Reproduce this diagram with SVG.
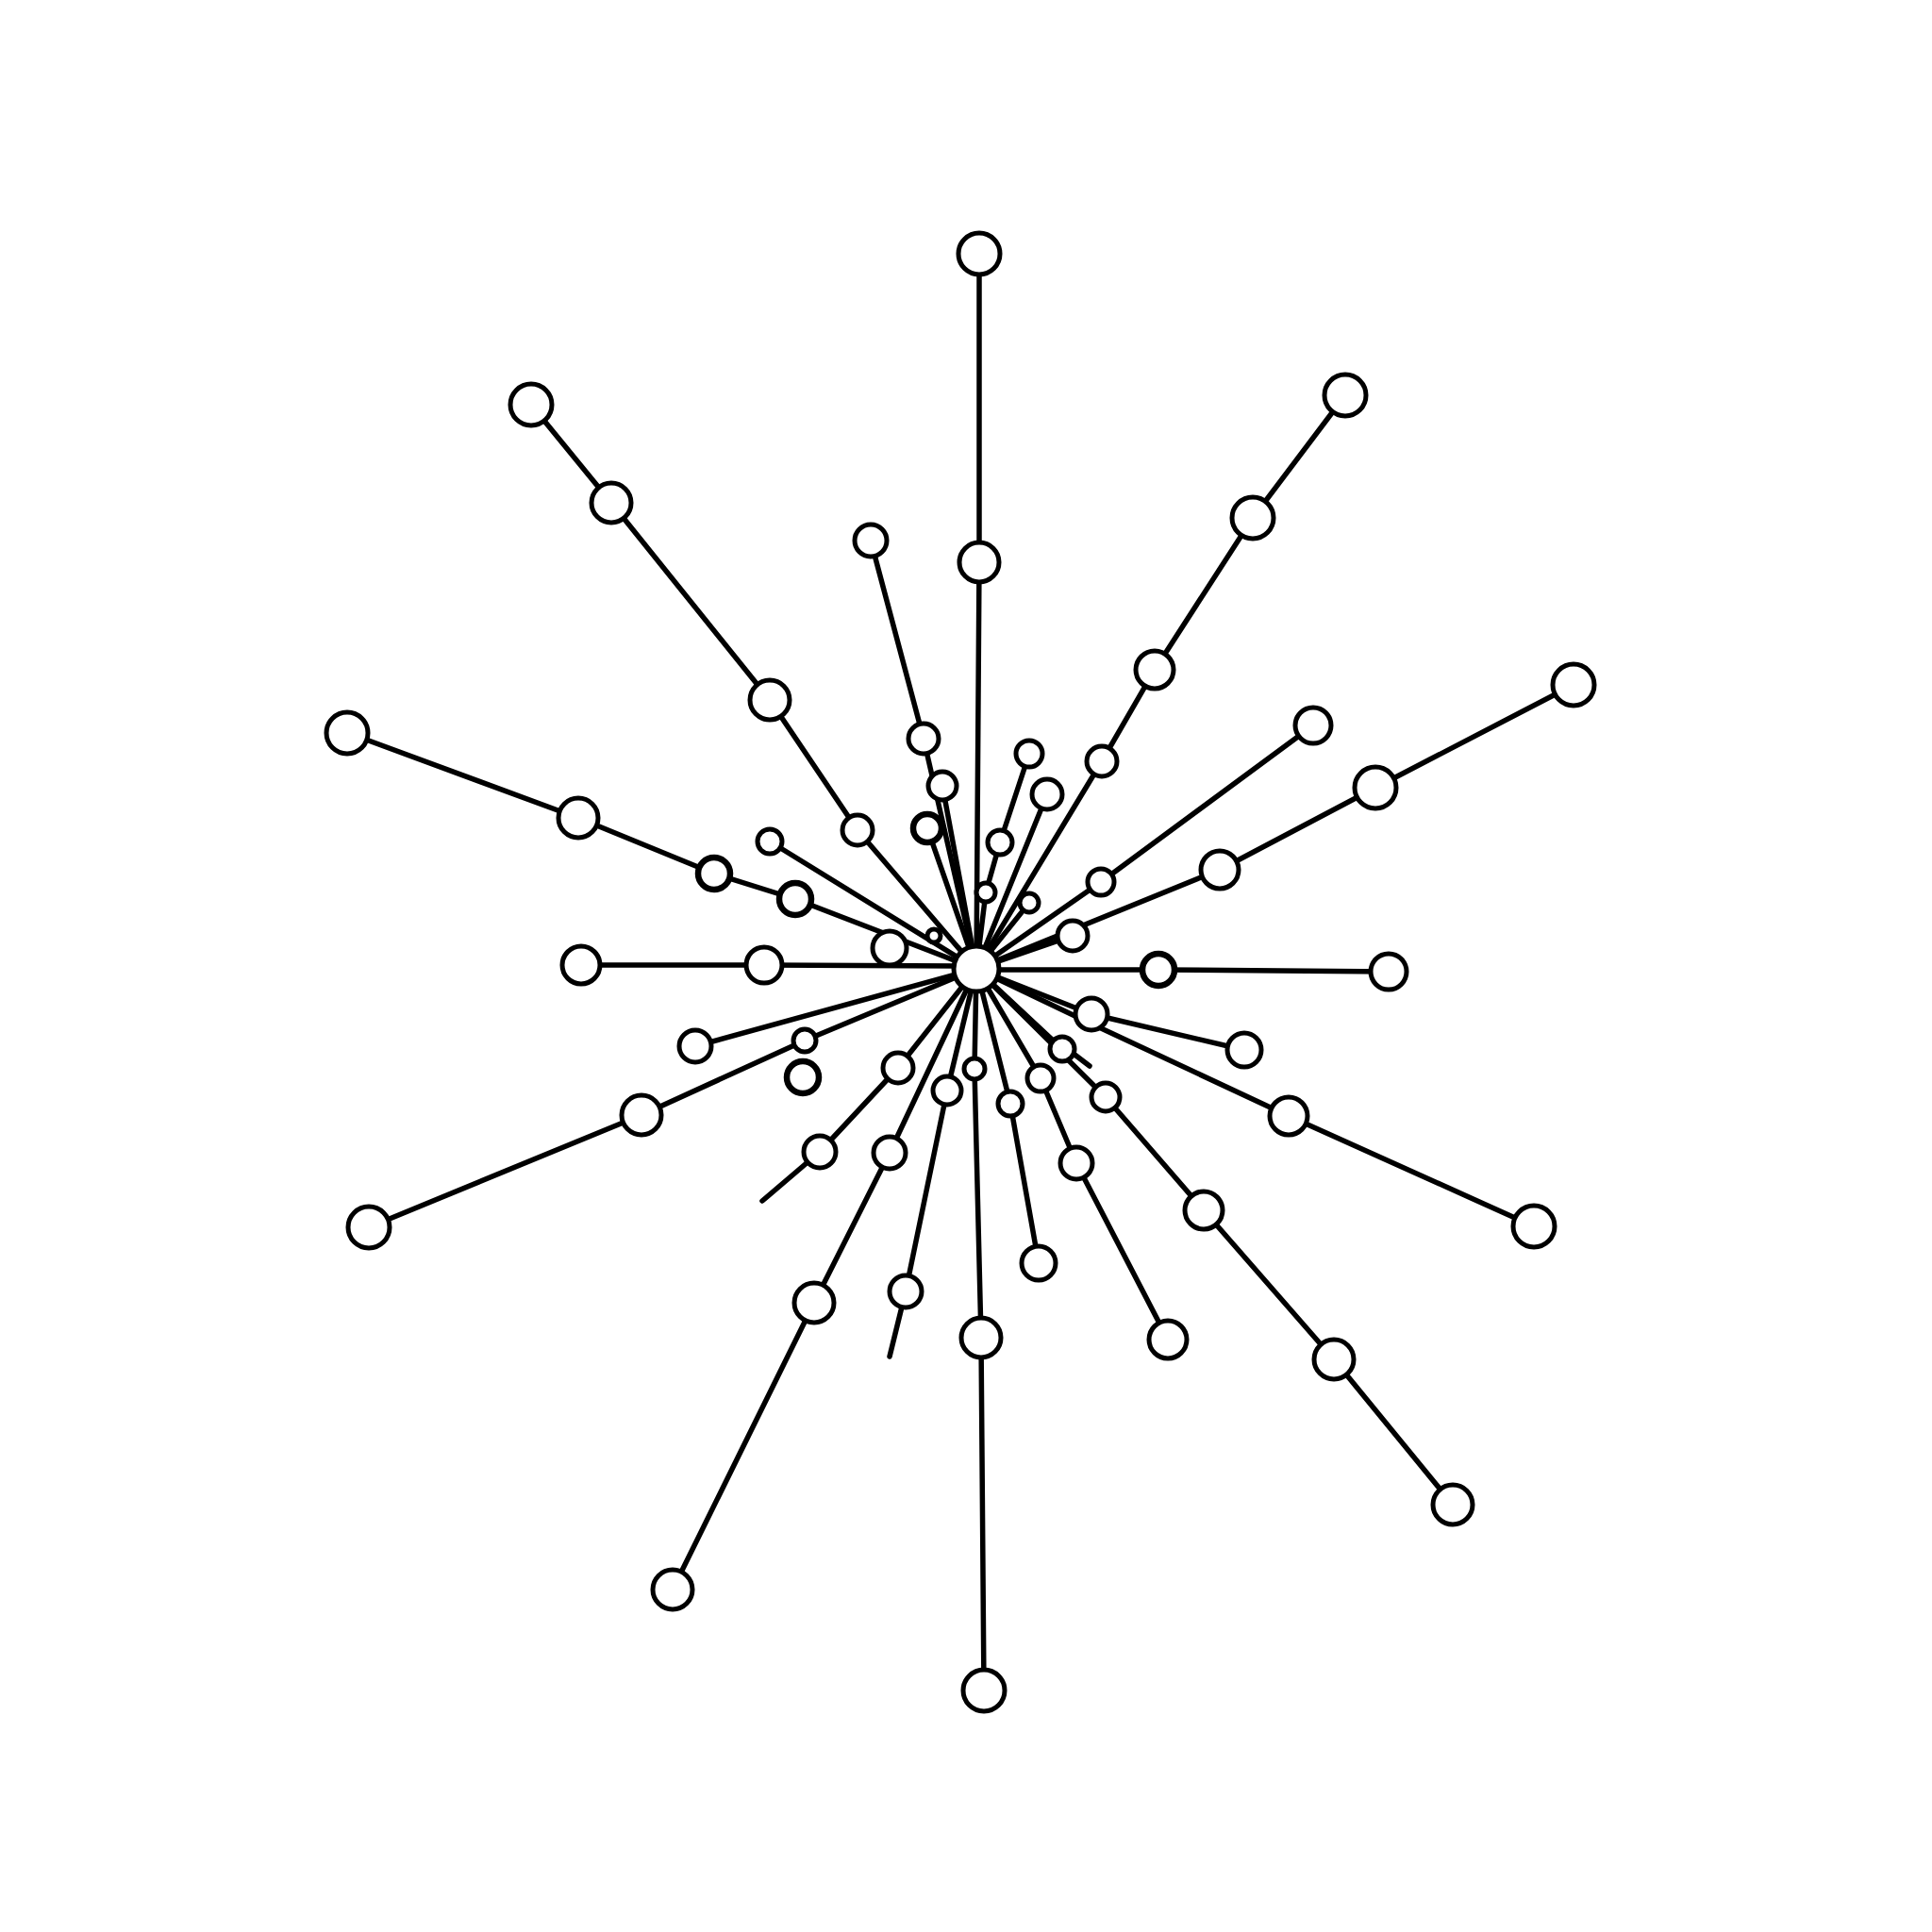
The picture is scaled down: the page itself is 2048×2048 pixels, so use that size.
<svg xmlns="http://www.w3.org/2000/svg" width="2048" height="2048" viewBox="0 0 2048 2048">
<style>
.bg{fill:#ffffff}
.edge{fill:none;stroke:#000;stroke-width:5.5;stroke-linecap:round;stroke-linejoin:round}
.node circle{fill:#ffffff;stroke:#000;stroke-width:5}
.node.thick circle{stroke-width:6.5}
</style>
<rect class="bg" x="0" y="0" width="2048" height="2048"/>
<g id="connectors">
<path class="edge" d="M1035,1027 L1038,596 L1038,269"/>
<path class="edge" d="M1035,1027 L909,880 L816,742 L648,533 L563,429"/>
<path class="edge" d="M1035,1027 L979,783 L923,573"/>
<path class="edge" d="M1035,1027 L999,833"/>
<path class="edge" d="M1035,1027 L983,878"/>
<path class="edge" d="M1035,1027 L1033,1133 L1040,1418 L1043,1792"/>
<path class="edge" d="M1035,1024 L810,1023 L616,1023"/>
<path class="edge" d="M1035,1027 L843,953 L757,926 L613,867 L369,777"/>
<path class="edge" d="M1035,1027 L816,892"/>
<path class="edge" d="M1035,1027 L1168,807 L1224,710 L1328,549 L1426,419"/>
<path class="edge" d="M1035,1027 L1045,946 L1060,893 L1091,799"/>
<path class="edge" d="M1035,1027 L1110,842"/>
<path class="edge" d="M1035,1027 L1167,935 L1392,769"/>
<path class="edge" d="M1035,1027 L1293,922 L1458,835 L1668,726"/>
<path class="edge" d="M1035,1027 L1091,957"/>
<path class="edge" d="M1035,1027 L1137,992"/>
<path class="edge" d="M1035,1028 L1228,1028 L1472,1030"/>
<path class="edge" d="M1035,1027 L1157,1075 L1319,1113"/>
<path class="edge" d="M1035,1027 L1150,1082 L1366,1183 L1626,1300"/>
<path class="edge" d="M1035,1027 L1126,1112"/>
<path class="edge" d="M1138,1117 L1155,1130"/>
<path class="edge" d="M1035,1027 L1172,1163 L1276,1283 L1414,1441 L1540,1595"/>
<path class="edge" d="M1035,1027 L1103,1143 L1141,1233 L1238,1420"/>
<path class="edge" d="M1035,1027 L1071,1170 L1101,1339"/>
<path class="edge" d="M1035,1027 L1004,1156 L960,1369 L943,1438"/>
<path class="edge" d="M1035,1027 L943,1222 L863,1381 L713,1685"/>
<path class="edge" d="M1035,1027 L952,1132 L869,1221 L808,1273"/>
<path class="edge" d="M1035,1027 L737,1109"/>
<path class="edge" d="M1035,1027 L853,1103 L680,1182 L391,1301"/>
</g>
<g id="nodes">
<g id="n-top1" class="node"><circle cx="1038" cy="269" r="22"/></g>
<g id="n-top2" class="node"><circle cx="1038" cy="596" r="21"/></g>
<g id="n-ul1" class="node"><circle cx="563" cy="429" r="22"/></g>
<g id="n-ul2" class="node"><circle cx="648" cy="533" r="21"/></g>
<g id="n-ul3" class="node"><circle cx="816" cy="742" r="21"/></g>
<g id="n-ul4" class="node"><circle cx="909" cy="880" r="16"/></g>
<g id="n-c1" class="node"><circle cx="923" cy="573" r="17"/></g>
<g id="n-c2" class="node"><circle cx="979" cy="783" r="16"/></g>
<g id="n-c3" class="node"><circle cx="999" cy="833" r="15"/></g>
<g id="n-c4" class="node thick"><circle cx="983" cy="878" r="15"/></g>
<g id="n-l1" class="node"><circle cx="368" cy="777" r="22"/></g>
<g id="n-l2" class="node"><circle cx="613" cy="867" r="21"/></g>
<g id="n-l3" class="node thick"><circle cx="757" cy="926" r="17"/></g>
<g id="n-l4" class="node thick"><circle cx="843" cy="953" r="17"/></g>
<g id="n-g1" class="node"><circle cx="816" cy="892" r="13"/></g>
<g id="n-h1" class="node"><circle cx="616" cy="1023" r="20"/></g>
<g id="n-h2" class="node"><circle cx="810" cy="1023" r="19"/></g>
<g id="n-h3" class="node"><circle cx="943" cy="1005" r="18"/></g>
<g id="n-s1" class="node"><circle cx="990" cy="992" r="7"/></g>
<g id="n-ur1" class="node"><circle cx="1426" cy="419" r="22"/></g>
<g id="n-ur2" class="node"><circle cx="1328" cy="549" r="22"/></g>
<g id="n-ur3" class="node"><circle cx="1224" cy="710" r="20"/></g>
<g id="n-ur4" class="node"><circle cx="1168" cy="807" r="16"/></g>
<g id="n-i1" class="node"><circle cx="1091" cy="799" r="14"/></g>
<g id="n-i2" class="node"><circle cx="1060" cy="893" r="13"/></g>
<g id="n-i3" class="node"><circle cx="1045" cy="946" r="10"/></g>
<g id="n-j1" class="node"><circle cx="1110" cy="842" r="16"/></g>
<g id="n-k1" class="node"><circle cx="1392" cy="769" r="19"/></g>
<g id="n-k2" class="node"><circle cx="1167" cy="935" r="14"/></g>
<g id="n-r1" class="node"><circle cx="1668" cy="726" r="22"/></g>
<g id="n-r2" class="node"><circle cx="1458" cy="835" r="22"/></g>
<g id="n-r3" class="node"><circle cx="1293" cy="922" r="20"/></g>
<g id="n-m1" class="node"><circle cx="1091" cy="957" r="10"/></g>
<g id="n-n1" class="node"><circle cx="1137" cy="992" r="16"/></g>
<g id="n-e1" class="node thick"><circle cx="1228" cy="1028" r="17"/></g>
<g id="n-e2" class="node"><circle cx="1472" cy="1030" r="19"/></g>
<g id="n-p1" class="node"><circle cx="1157" cy="1075" r="17"/></g>
<g id="n-p2" class="node"><circle cx="1319" cy="1113" r="18"/></g>
<g id="n-q1" class="node"><circle cx="1366" cy="1183" r="20"/></g>
<g id="n-q2" class="node"><circle cx="1626" cy="1300" r="22"/></g>
<g id="n-rr1" class="node"><circle cx="1126" cy="1112" r="13"/></g>
<g id="n-sa1" class="node"><circle cx="1172" cy="1163" r="15"/></g>
<g id="n-sa2" class="node"><circle cx="1276" cy="1283" r="20"/></g>
<g id="n-sa3" class="node"><circle cx="1414" cy="1441" r="21"/></g>
<g id="n-sa4" class="node"><circle cx="1540" cy="1595" r="21"/></g>
<g id="n-t1" class="node"><circle cx="1103" cy="1143" r="14"/></g>
<g id="n-t2" class="node"><circle cx="1141" cy="1233" r="17"/></g>
<g id="n-t3" class="node"><circle cx="1238" cy="1420" r="20"/></g>
<g id="n-u1" class="node"><circle cx="1071" cy="1170" r="13"/></g>
<g id="n-u2" class="node"><circle cx="1101" cy="1339" r="18"/></g>
<g id="n-d1" class="node"><circle cx="1033" cy="1133" r="11"/></g>
<g id="n-d2" class="node"><circle cx="1040" cy="1418" r="21"/></g>
<g id="n-d3" class="node"><circle cx="1043" cy="1792" r="22"/></g>
<g id="n-v1" class="node"><circle cx="1004" cy="1156" r="15"/></g>
<g id="n-v2" class="node"><circle cx="960" cy="1369" r="17"/></g>
<g id="n-w1" class="node"><circle cx="943" cy="1222" r="17"/></g>
<g id="n-w2" class="node"><circle cx="863" cy="1381" r="21"/></g>
<g id="n-w3" class="node"><circle cx="713" cy="1685" r="21"/></g>
<g id="n-x1" class="node"><circle cx="952" cy="1132" r="16"/></g>
<g id="n-x2" class="node"><circle cx="869" cy="1221" r="17"/></g>
<g id="n-y1" class="node"><circle cx="737" cy="1109" r="17"/></g>
<g id="n-z1" class="node"><circle cx="391" cy="1301" r="22"/></g>
<g id="n-z2" class="node"><circle cx="680" cy="1182" r="21"/></g>
<g id="n-z3" class="node"><circle cx="853" cy="1103" r="12"/></g>
<g id="n-z4" class="node thick"><circle cx="851" cy="1142" r="17"/></g>
<g id="n-center" class="node"><circle cx="1035" cy="1027" r="24"/></g>
</g>
</svg>
